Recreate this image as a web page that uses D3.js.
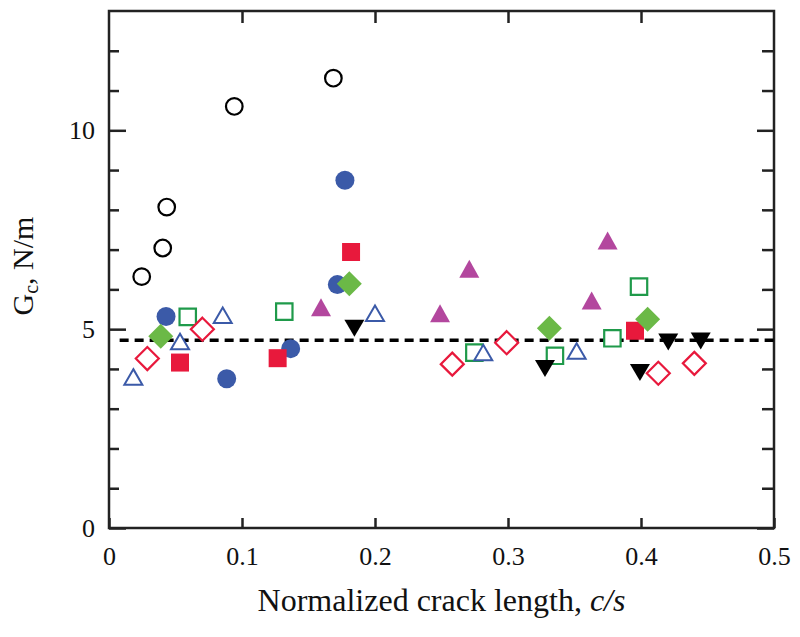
<!DOCTYPE html>
<html>
<head>
<meta charset="utf-8">
<script src="https://cdn.jsdelivr.net/npm/d3@7"></script>
<style>
  html, body { margin: 0; padding: 0; background: #fff; }
  svg { display: block; }
  svg text { font-family: "Liberation Serif", "DejaVu Serif", "Times New Roman", Times, serif !important; fill: #111; }
</style>
</head>
<body>
<svg id="chart" width="800" height="637"></svg>
<script>
// ---- Data ----
const xTicks = [0, 0.1, 0.2, 0.3, 0.4, 0.5];
const xTickLabels = ["0", "0.1", "0.2", "0.3", "0.4", "0.5"];
const yMajorTicks = [0, 5, 10];
const yTickLabels = ["0", "5", "10"];
const yMinorTicks = [1, 2, 3, 4, 6, 7, 8, 9, 11, 12];
const meanGc = 4.72;
const meanLineX = [0.008, 0.5];

const openCircleX = [0.0246, 0.0404, 0.0434, 0.0942, 0.1687];
const openCircleY = [6.32, 7.04, 8.07, 10.6, 11.31];

const blueCircleX = [0.0429, 0.0885, 0.1366, 0.1717, 0.1774];
const blueCircleY = [5.32, 3.755, 4.51, 6.12, 8.745];

const redSquareX = [0.0534, 0.1268, 0.182, 0.3955];
const redSquareY = [4.16, 4.27, 6.94, 4.96];

const greenDiamondX = [0.0389, 0.1807, 0.3311, 0.405];
const greenDiamondY = [4.82, 6.14, 5.02, 5.25];

const openSquareX = [0.0592, 0.1318, 0.2747, 0.3353, 0.3785, 0.3985];
const openSquareY = [5.31, 5.44, 4.41, 4.33, 4.77, 6.07];

const openTriangleX = [0.0183, 0.0534, 0.0855, 0.2, 0.2814, 0.3516];
const openTriangleY = [3.80, 4.69, 5.35, 5.40, 4.41, 4.45];

const magentaTriangleX = [0.1594, 0.2489, 0.2709, 0.3629, 0.3749];
const magentaTriangleY = [5.55, 5.40, 6.52, 5.72, 7.23];

const downTriangleX = [0.1845, 0.3278, 0.3992, 0.4205, 0.4449];
const downTriangleY = [5.02, 4.01, 3.91, 4.68, 4.70];

const openDiamondX = [0.0288, 0.0702, 0.2581, 0.299, 0.413, 0.4401];
const openDiamondY = [4.26, 5.0, 4.12, 4.66, 3.89, 4.14];

// ---- Layout ----
const FONT = '"Liberation Serif", "DejaVu Serif", "Times New Roman", Times, serif';
const svg = d3.select("#chart");
const L = 109, R = 774, T = 11, B = 528;
const x = d3.scaleLinear().domain([0, 0.5]).range([L, R]);
const y = d3.scaleLinear().domain([0, 13]).range([B, T]);

const axisColor = "#222";

function styleAxis(g) {
  g.attr("font-family", FONT);
  g.select(".domain").remove();
  g.selectAll(".tick line").attr("stroke", axisColor).attr("stroke-width", 2.5);
  g.selectAll(".tick text").attr("font-size", 26).attr("fill", "#111").style("font-family", FONT);
}
// bottom
svg.append("g").attr("transform", `translate(0,${B})`)
  .call(d3.axisBottom(x).tickValues(xTicks).tickSize(-10).tickFormat((d, i) => xTickLabels[i]).tickPadding(19))
  .call(styleAxis);
// top
svg.append("g").attr("transform", `translate(0,${T})`)
  .call(d3.axisTop(x).tickValues(xTicks.slice(1, -1)).tickSize(-12).tickFormat(""))
  .call(styleAxis);
// left major
svg.append("g").attr("transform", `translate(${L},0)`)
  .call(d3.axisLeft(y).tickValues(yMajorTicks).tickSize(-17).tickFormat((d, i) => yTickLabels[i]).tickPadding(14))
  .call(styleAxis);
// left minor
svg.append("g").attr("transform", `translate(${L},0)`)
  .call(d3.axisLeft(y).tickValues(yMinorTicks).tickSize(-10).tickFormat(""))
  .call(styleAxis);
// right major
svg.append("g").attr("transform", `translate(${R},0)`)
  .call(d3.axisRight(y).tickValues(yMajorTicks).tickSize(-17).tickFormat(""))
  .call(styleAxis);
// right minor
svg.append("g").attr("transform", `translate(${R},0)`)
  .call(d3.axisRight(y).tickValues(yMinorTicks).tickSize(-12).tickFormat(""))
  .call(styleAxis);

// frame
svg.append("rect").attr("x", L).attr("y", T).attr("width", R - L).attr("height", B - T)
  .attr("fill", "none").attr("stroke", axisColor).attr("stroke-width", 2.5);

// ---- Mean line ----
svg.append("line")
  .attr("x1", x(meanLineX[0])).attr("x2", x(meanLineX[1]))
  .attr("y1", y(meanGc)).attr("y2", y(meanGc))
  .attr("stroke", "#000").attr("stroke-width", 3.5).attr("stroke-dasharray", "9,6");

// ---- Marker shapes ----
const shapes = {
  circle: r => `M${r},0A${r},${r},0,1,1,${-r},0A${r},${r},0,1,1,${r},0Z`,
  square: s => `M${-s},${-s}H${s}V${s}H${-s}Z`,
  diamond: s => `M0,${-s}L${s},0L0,${s}L${-s},0Z`,
  triUp: (w, h) => `M0,${-h / 2}L${w / 2},${h / 2}L${-w / 2},${h / 2}Z`,
  triDown: (w, h) => `M0,${h / 2}L${w / 2},${-h / 2}L${-w / 2},${-h / 2}Z`
};

function plot(xs, ys, path, fill, stroke, sw) {
  const data = xs.map((v, i) => ({ x: v, y: ys[i] }));
  svg.append("g").selectAll("path").data(data).join("path")
    .attr("transform", d => `translate(${x(d.x)},${y(d.y)})`)
    .attr("d", path)
    .attr("fill", fill)
    .attr("stroke", stroke)
    .attr("stroke-width", sw);
}

const blue = "#3b5aa8", red = "#e8193c", green = "#6bb947", darkGreen = "#1f9a4a", magenta = "#b3479e";

plot(openCircleX, openCircleY, shapes.circle(8.3), "#fff", "#000", 2.2);
plot(blueCircleX, blueCircleY, shapes.circle(9.5), blue, "none", 0);
plot(redSquareX, redSquareY, shapes.square(9), red, "none", 0);
plot(openSquareX, openSquareY, shapes.square(8.2), "#fff", darkGreen, 2.2);
plot(greenDiamondX, greenDiamondY, shapes.diamond(12.5), green, "none", 0);
plot(magentaTriangleX, magentaTriangleY, shapes.triUp(20, 18), magenta, "none", 0);
plot(openTriangleX, openTriangleY, shapes.triUp(18, 15.5), "#fff", blue, 2);
plot(downTriangleX, downTriangleY, shapes.triDown(20, 17), "#000", "none", 0);
plot(openDiamondX, openDiamondY, shapes.diamond(11.5), "#fff", red, 2.2);

// ---- Axis titles ----
svg.append("text")
  .attr("x", (L + R) / 2).attr("y", 611)
  .attr("text-anchor", "middle").attr("font-size", 32)
  .style("font-family", FONT)
  .call(t => {
    t.append("tspan").text("Normalized crack length, ");
    t.append("tspan").attr("font-style", "italic").text("c/s");
  });

svg.append("text")
  .attr("transform", `translate(33,266) rotate(-90)`)
  .attr("text-anchor", "middle").attr("font-size", 30)
  .style("font-family", FONT)
  .call(t => {
    t.append("tspan").text("G");
    t.append("tspan").attr("font-size", 20).attr("dy", 5).text("c");
    t.append("tspan").attr("dy", -5).text(", N/m");
  });
</script>
</body>
</html>
